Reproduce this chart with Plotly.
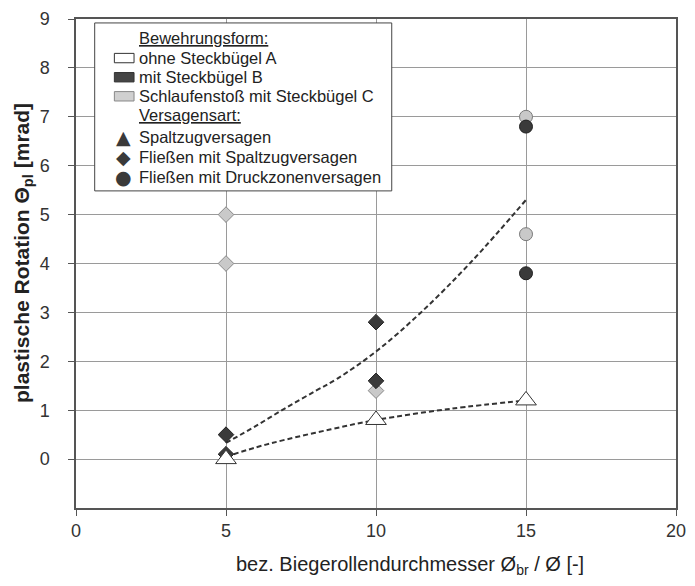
import plotly.graph_objects as go

# ---- data ----
x_A = [5, 10, 15]
y_A = [0.0, 0.8, 1.2]          # ohne Steckbügel A, Spaltzugversagen (triangles)

x_B_dia = [5, 5, 10, 10]
y_B_dia = [0.5, 0.1, 2.8, 1.6]  # mit Steckbügel B, Fließen mit Spaltzugversagen

x_C_dia = [5, 5, 10]
y_C_dia = [5.0, 4.0, 1.4]       # Schlaufenstoß C, Fließen mit Spaltzugversagen

x_B_circ = [15, 15]
y_B_circ = [6.8, 3.8]           # mit Steckbügel B, Fließen mit Druckzonenversagen

x_C_circ = [15, 15]
y_C_circ = [7.0, 4.6]           # Schlaufenstoß C, Fließen mit Druckzonenversagen

# trend lines
x_trend_up = [5, 6, 7, 8, 8.7, 10, 11.5, 13.2, 15]
y_trend_up = [0.33, 0.68, 1.05, 1.40, 1.64, 2.2, 3.0, 4.05, 5.3]
x_trend_lo = [5, 6, 7, 8.5, 10, 12.5, 15]
y_trend_lo = [0.05, 0.24, 0.40, 0.61, 0.8, 1.03, 1.2]

x_ticks = [0, 5, 10, 15, 20]
y_ticks = [0, 1, 2, 3, 4, 5, 6, 7, 8, 9]

DARK = "#3a3a3a"
GRAY = "#c9c9c9"
FONT = "Liberation Sans, Arial, sans-serif"
PAD = "\u00a0\u00a0\u00a0"

fig = go.Figure()

fig.add_trace(go.Scatter(x=x_trend_up, y=y_trend_up, mode="lines",
                         line=dict(color="#333", width=2, dash="5px,3px", shape="spline"),
                         showlegend=False, hoverinfo="skip"))
fig.add_trace(go.Scatter(x=x_trend_lo, y=y_trend_lo, mode="lines",
                         line=dict(color="#333", width=2, dash="5px,3px", shape="spline"),
                         showlegend=False, hoverinfo="skip"))

fig.add_trace(go.Scatter(x=x_C_dia, y=y_C_dia, mode="markers",
                         marker=dict(symbol="diamond", size=12, color=GRAY,
                                     line=dict(color="#8a8a8a", width=1)), showlegend=False))
fig.add_trace(go.Scatter(x=x_B_dia, y=y_B_dia, mode="markers",
                         marker=dict(symbol="diamond", size=12, color=DARK,
                                     line=dict(color="#222", width=1)), showlegend=False))
fig.add_trace(go.Scatter(x=x_C_circ, y=y_C_circ, mode="markers",
                         marker=dict(symbol="circle", size=13, color=GRAY,
                                     line=dict(color="#7a7a7a", width=1)), showlegend=False))
fig.add_trace(go.Scatter(x=x_B_circ, y=y_B_circ, mode="markers",
                         marker=dict(symbol="circle", size=13, color=DARK,
                                     line=dict(color="#222", width=1)), showlegend=False))
fig.add_trace(go.Scatter(x=x_A, y=y_A, mode="markers",
                         marker=dict(symbol="triangle-up", size=18, color="white",
                                     line=dict(color="#333", width=1)), showlegend=False))

# ---- layout geometry helpers (pixel -> paper) ----
L, R, T, B = 76, 686, 13, 508
W, H = 695, 586


def px(x):
    return (x - L) / (R - L)


def py(y):
    return (B - y) / (B - T)


shapes = []
annotations = []

# legend box
shapes.append(dict(type="rect", xref="paper", yref="paper",
                   x0=px(95), x1=px(397), y0=py(187), y1=py(17),
                   fillcolor="white", line=dict(color="#444", width=1), layer="above"))

legend_rows = [
    ("<u>Bewehrungsform:</u>", 32.5, None),
    ("ohne Steckbügel A", 52.3, ("rect", "white", "#333")),
    ("mit Steckbügel B", 71.7, ("rect", "#454545", "#333")),
    ("Schlaufenstoß mit Steckbügel C", 91.0, ("rect", "#d0d0d0", "#888")),
    ("<u>Versagensart:</u>", 110.5, None),
    ("Spaltzugversagen", 132.7, ("sym", "▲")),
    ("Fließen mit Spaltzugversagen", 152.7, ("sym", "◆")),
    ("Fließen mit Druckzonenversagen", 172.7, ("sym", "●")),
]
for text, yc, sw in legend_rows:
    annotations.append(dict(xref="paper", yref="paper", x=px(138), y=py(yc),
                            xanchor="left", yanchor="middle", text=text, showarrow=False,
                            font=dict(family=FONT, size=16.5, color="#222")))
    if sw is None:
        continue
    if sw[0] == "rect":
        shapes.append(dict(type="rect", xref="paper", yref="paper",
                           x0=px(115), x1=px(135), y0=py(yc + 5), y1=py(yc - 4.5),
                           fillcolor=sw[1], line=dict(color=sw[2], width=1), layer="above"))
    else:
        annotations.append(dict(xref="paper", yref="paper", x=px(124), y=py(yc),
                                xanchor="center", yanchor="middle", text=sw[1], showarrow=False,
                                font=dict(family="DejaVu Sans", size=19, color=DARK)))

# axis titles
annotations.append(dict(xref="paper", yref="paper", x=px(416), y=py(566),
                        xanchor="center", yanchor="middle", showarrow=False,
                        text="bez. Biegerollendurchmesser Ø<sub>br</sub> / Ø [-]",
                        font=dict(family=FONT, size=20, color="#222")))
annotations.append(dict(xref="paper", yref="paper", x=px(22), y=py(250),
                        xanchor="center", yanchor="middle", showarrow=False, textangle=-90,
                        text="<b>plastische Rotation Θ<sub>pl</sub> [mrad]</b>",
                        font=dict(family=FONT, size=21, color="#222")))

fig.update_layout(
    width=W, height=H,
    margin=dict(l=L, r=W - R, t=T, b=H - B),
    paper_bgcolor="white", plot_bgcolor="white",
    shapes=shapes, annotations=annotations,
    showlegend=False,
    font=dict(family=FONT, color="#333"),
)
fig.update_xaxes(range=[0, 20], tickvals=x_ticks, ticktext=[str(v) for v in x_ticks],
                 showgrid=True, gridcolor="#9a9a9a", gridwidth=1,
                 showline=True, linecolor="#555", linewidth=1.5, mirror=True,
                 ticks="outside", ticklen=6, tickcolor="#555",
                 tickfont=dict(family=FONT, size=18, color="#333"),
                 zeroline=False, fixedrange=True)
fig.update_yaxes(range=[-1, 9], tickvals=y_ticks, ticktext=[str(v) + PAD for v in y_ticks],
                 showgrid=True, gridcolor="#9a9a9a", gridwidth=1,
                 showline=True, linecolor="#555", linewidth=1.5, mirror=True,
                 ticks="outside", ticklen=6, tickcolor="#555",
                 tickfont=dict(family=FONT, size=18, color="#333"),
                 zeroline=False, fixedrange=True)

fig.write_html("out.html")
